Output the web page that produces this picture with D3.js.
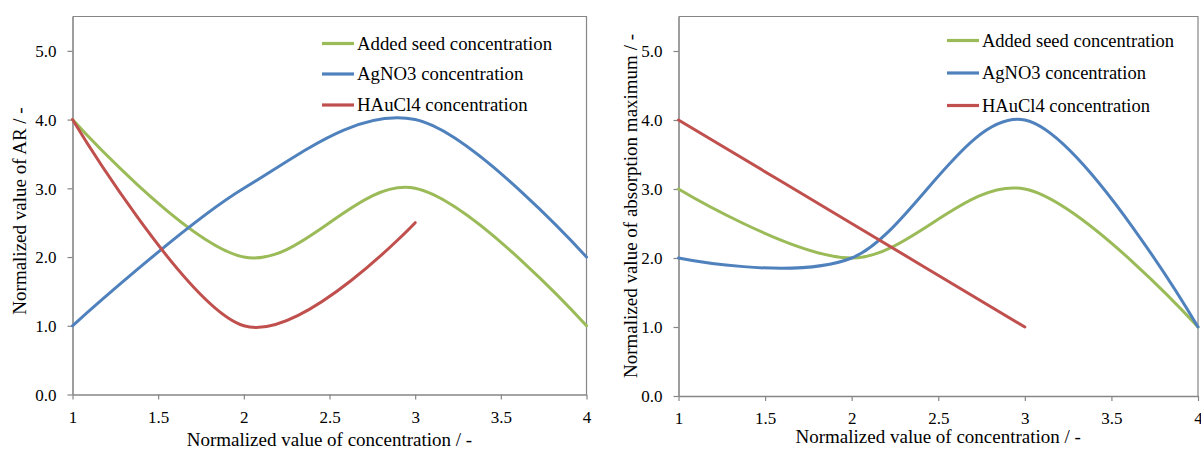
<!DOCTYPE html>
<html>
<head>
<meta charset="utf-8">
<script src="https://cdn.jsdelivr.net/npm/d3@7"></script>
<style>
  html, body { margin: 0; padding: 0; background: #fff; }
  svg { display: block; }
  text { font-family: "Liberation Serif", "Times New Roman", serif; fill: #000; }
</style>
</head>
<body>
<svg id="chart" width="1201" height="450"></svg>
<script>
// ---- data ----
const xTicks = [1, 1.5, 2, 2.5, 3, 3.5, 4];
const yTicks = [0, 1, 2, 3, 4, 5];
const seriesNames = ["Added seed concentration", "AgNO3 concentration", "HAuCl4 concentration"];

// Left chart: aspect ratio (AR)
const arSeedX = [1, 2, 3, 4];
const arSeedY = [4, 2, 3, 1];
const arAgNO3X = [1, 2, 3, 4];
const arAgNO3Y = [1, 3, 4, 2];
const arHAuCl4X = [1, 2, 3];
const arHAuCl4Y = [4, 1, 2.5];

// Right chart: absorption maximum
const absSeedX = [1, 2, 3, 4];
const absSeedY = [3, 2, 3, 1];
const absAgNO3X = [1, 2, 3, 4];
const absAgNO3Y = [2, 2, 4, 1];
const absHAuCl4X = [1, 2, 3];
const absHAuCl4Y = [4, 2.5, 1];

const xTitle = "Normalized value of concentration / -";
const yTitleLeft = "Normalized value of AR / -";
const yTitleRight = "Normalized value of absorption maximum / -";

// ---- styles ----
const colors = ["#9BBB59", "#4F81BD", "#C0504D"];
const axisColor = "#868686";

const svg = d3.select("#chart");

function zip(xs, ys) { return xs.map((x, i) => ({ x: x, y: ys[i] })); }

function drawChart(cfg) {
  const x = d3.scaleLinear().domain([1, 4]).range([cfg.left, cfg.right]);
  const y = d3.scaleLinear().domain([0, 5.5]).range([cfg.bottom, cfg.top]);
  const g = svg.append("g");

  // frame (top and right)
  g.append("path")
    .attr("d", `M${cfg.left},${cfg.top}H${cfg.right}V${cfg.bottom}`)
    .attr("fill", "none").attr("stroke", axisColor).attr("stroke-width", 1.2);

  // x axis
  const xa = g.append("g").attr("transform", `translate(0,${cfg.bottom})`)
    .call(d3.axisBottom(x).tickValues(xTicks).tickSize(5).tickSizeOuter(0)
      .tickFormat(d3.format("")));
  xa.select(".domain").attr("stroke", axisColor).attr("stroke-width", 1.6);
  xa.selectAll(".tick line").attr("stroke", axisColor).attr("stroke-width", 1.2);
  xa.selectAll(".tick text").attr("y", 28).attr("dy", 0)
    .style("font-size", "17px").style("font-family", "Liberation Serif");

  // y axis
  const ya = g.append("g").attr("transform", `translate(${cfg.left},0)`)
    .call(d3.axisLeft(y).tickValues(yTicks).tickSize(5).tickSizeOuter(0)
      .tickPadding(11).tickFormat(d3.format(".1f")));
  ya.select(".domain").attr("stroke", axisColor).attr("stroke-width", 1.6);
  ya.selectAll(".tick line").attr("stroke", axisColor).attr("stroke-width", 1.2);
  ya.selectAll(".tick text").attr("dy", "0.34em")
    .style("font-size", "17px").style("font-family", "Liberation Serif");

  // lines
  const line = d3.line().x(d => x(d.x)).y(d => y(d.y)).curve(d3.curveCardinal.tension(0));
  const series = cfg.series;
  series.forEach((s, i) => {
    g.append("path").datum(s)
      .attr("d", line)
      .attr("fill", "none")
      .attr("stroke", colors[i])
      .attr("stroke-width", 3)
      .attr("stroke-linecap", "round")
      .attr("stroke-linejoin", "round");
  });

  // legend
  seriesNames.forEach((name, i) => {
    const cy = cfg.legendY[i];
    g.append("line")
      .attr("x1", cfg.legendX).attr("x2", cfg.legendX + 32)
      .attr("y1", cy).attr("y2", cy)
      .attr("stroke", colors[i]).attr("stroke-width", 3.2);
    g.append("text")
      .attr("x", cfg.legendX + 35).attr("y", cy + 6)
      .style("font-size", cfg.legendFont + "px")
      .text(name);
  });

  // axis titles
  g.append("text")
    .attr("x", (cfg.left + cfg.right) / 2).attr("y", cfg.xTitleY)
    .attr("text-anchor", "middle")
    .style("font-size", "19px")
    .text(xTitle);
  g.append("text")
    .attr("transform", `translate(${cfg.yTitleX},${cfg.yTitleCY}) rotate(-90)`)
    .attr("text-anchor", "middle")
    .style("font-size", "19px")
    .text(cfg.yTitle);
}

drawChart({
  left: 72.5, right: 586.5, top: 16.5, bottom: 394.5,
  series: [zip(arSeedX, arSeedY), zip(arAgNO3X, arAgNO3Y), zip(arHAuCl4X, arHAuCl4Y)],
  legendX: 322, legendY: [43.5, 74, 105], legendFont: 18.8,
  xTitleY: 446, yTitleX: 26, yTitleCY: 211, yTitle: yTitleLeft
});

drawChart({
  left: 678.5, right: 1198, top: 16.5, bottom: 396,
  series: [zip(absSeedX, absSeedY), zip(absAgNO3X, absAgNO3Y), zip(absHAuCl4X, absHAuCl4Y)],
  legendX: 947, legendY: [40.5, 73, 105.5], legendFont: 18.5,
  xTitleY: 443, yTitleX: 637, yTitleCY: 206, yTitle: yTitleRight
});
</script>
</body>
</html>
